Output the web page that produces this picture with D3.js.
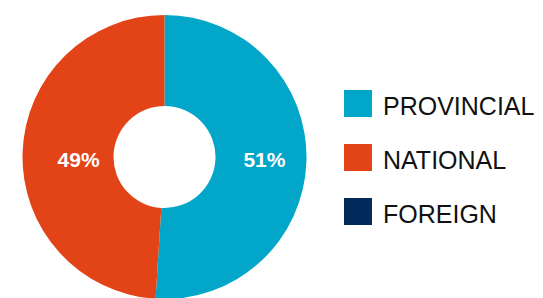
<!DOCTYPE html>
<html lang="en">
<head>
    <meta charset="UTF-8">
    <title>Donut</title>
    <style>
        body { margin: 0; background: #fff; font-family: "Liberation Sans", Arial, sans-serif; }
        .pct { fill: #fff; font-weight: bold; font-size: 21px; }
        .legend-label { fill: #111; font-size: 25px; }
    </style>
</head>
<body>
    <svg id="chart" width="543" height="298"></svg>

    <script src="https://d3js.org/d3.v7.min.js"></script>
    <script>
        // data
        const categories = ['PROVINCIAL', 'NATIONAL', 'FOREIGN'];
        const values = [51, 49, 0];
        const colors = ['#02a6c8', '#e24418', '#022b5c'];

        const cx = 164.5, cy = 157;
        const outerR = 142, innerR = 51;

        const svg = d3.select('#chart');
        const data = categories.map((c, i) => ({ name: c, value: values[i], color: colors[i] }));

        const pie = d3.pie().sort(null).value(d => d.value);
        const arc = d3.arc().innerRadius(innerR).outerRadius(outerR);
        const labelArc = d3.arc().innerRadius(93).outerRadius(93);

        const g = svg.append('g').attr('transform', `translate(${cx},${cy})`);
        const arcs = pie(data).filter(d => d.data.value > 0);

        g.selectAll('path.slice')
            .data(arcs)
            .enter().append('path')
            .attr('class', 'slice')
            .attr('fill', d => d.data.color)
            .attr('d', arc);

        // percent labels, roughly on the ring centre line
        g.selectAll('text.pct')
            .data(arcs)
            .enter().append('text')
            .attr('class', 'pct')
            .attr('text-anchor', 'middle')
            .attr('x', d => labelArc.centroid(d)[0] + 7)
            .attr('y', 10)
            .text(d => d.data.value + '%');

        // legend
        const legend = svg.append('g').attr('transform', 'translate(344,90)');
        const item = legend.selectAll('g.item')
            .data(data)
            .enter().append('g')
            .attr('class', 'item')
            .attr('transform', (d, i) => `translate(0,${i * 54})`);

        item.append('rect')
            .attr('width', 28)
            .attr('height', 27)
            .attr('fill', d => d.color);

        item.append('text')
            .attr('class', 'legend-label')
            .attr('x', 39)
            .attr('y', 25)
            .text(d => d.name);
    </script>
</body>
</html>
